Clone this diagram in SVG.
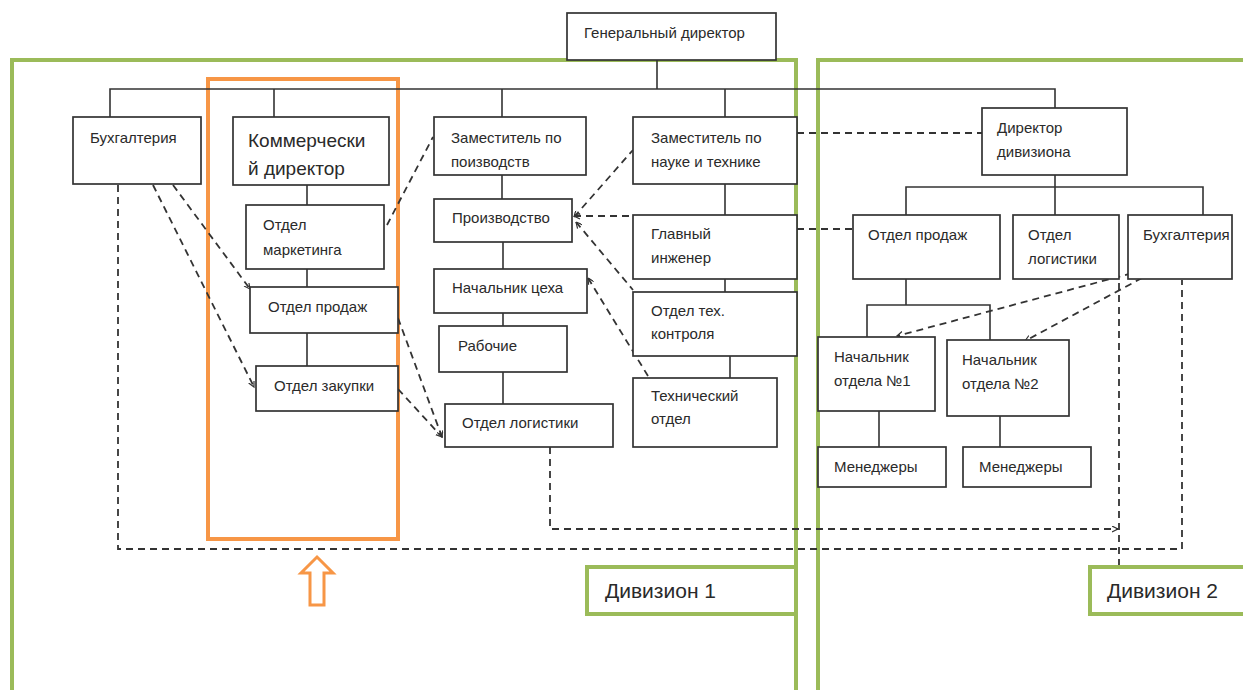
<svg xmlns="http://www.w3.org/2000/svg" width="1243" height="690" viewBox="0 0 1243 690">
<defs>
<style>
.box{fill:#fff;stroke:#333;stroke-width:1.7}
.t{font-family:"Liberation Sans",Arial,sans-serif;font-size:15px;fill:#2a2a2a}
.big{font-size:19px}
.div{font-size:21px}
.ln{fill:none;stroke:#333;stroke-width:1.6}
.dash{fill:none;stroke:#333;stroke-width:1.8;stroke-dasharray:7 5}
.green{fill:none;stroke:#9BBB59;stroke-width:4}
.orange{fill:none;stroke:#F79646;stroke-width:4}
</style>
<marker id="arr" markerWidth="8" markerHeight="8" refX="6" refY="3" orient="auto" markerUnits="userSpaceOnUse">
<path d="M0,0 L6,3 L0,6" fill="none" stroke="#333" stroke-width="1.2"/>
</marker>
<marker id="arrs" markerWidth="8" markerHeight="8" refX="0" refY="3" orient="auto" markerUnits="userSpaceOnUse">
<path d="M6,0 L0,3 L6,6" fill="none" stroke="#333" stroke-width="1.2"/>
</marker>
</defs>
<rect width="1243" height="690" fill="#fff"/>

<g id="divisions">
<rect class="green" x="12" y="60" width="784" height="640"/>
<rect class="green" x="818" y="60" width="440" height="640"/>
<rect class="orange" x="208" y="79" width="190" height="460"/>
<path d="M317,557 L333,573 L324,573 L324,605 L310,605 L310,573 L301,573 Z" fill="#fff" stroke="#F79646" stroke-width="3" stroke-linejoin="miter"/>
</g>

<g id="connectors">
<path class="ln" d="M110,117 V89 H1055 V108"/>
<path class="ln" d="M657,60 V89"/>
<path class="ln" d="M274,89 V117"/>
<path class="ln" d="M502,89 V117"/>
<path class="ln" d="M725,89 V117"/>
<path class="ln" d="M307,185 V205"/>
<path class="ln" d="M307,269 V287"/>
<path class="ln" d="M307,333 V366"/>
<path class="ln" d="M502,175 V199"/>
<path class="ln" d="M503,242 V269"/>
<path class="ln" d="M503,313 V326"/>
<path class="ln" d="M503,372 V404"/>
<path class="ln" d="M725,184 V215"/>
<path class="ln" d="M725,279 V292"/>
<path class="ln" d="M730,356 V378"/>
<path class="ln" d="M1055,175 V187"/>
<path class="ln" d="M906,215 V187 H1203 V215"/>
<path class="ln" d="M1055,187 V215"/>
<path class="ln" d="M906,279 V305"/>
<path class="ln" d="M867,337 V305 H990 V340"/>
<path class="ln" d="M879,411 V447"/>
<path class="ln" d="M1000,416 V447"/>

<path class="dash" d="M118,185 V549 H1182 V280"/>
<path class="dash" d="M550,447 V529 H1118" marker-end="url(#arr)"/>
<path class="dash" d="M1119,283 V565"/>
<path class="dash" d="M173,185 L250,289" marker-end="url(#arr)"/>
<path class="dash" d="M153,185 L254,387" marker-end="url(#arr)"/>
<path class="dash" d="M387,225 L433,137"/>
<path class="dash" d="M398,318 L442,437" marker-end="url(#arr)"/>
<path class="dash" d="M398,389 L442,437" marker-end="url(#arr)"/>
<path class="dash" d="M574,217 L633,150" marker-start="url(#arrs)"/>
<path class="dash" d="M574,216 H633" marker-start="url(#arrs)"/>
<path class="dash" d="M576,222 L633,290" marker-start="url(#arrs)"/>
<path class="dash" d="M588,278 L648,376" marker-start="url(#arrs)"/>
<path class="dash" d="M797,133 H982"/>
<path class="dash" d="M797,229 H853"/>
<path class="dash" d="M1155,267 L897,336" marker-end="url(#arr)"/>
<path class="dash" d="M1142,278 L1025,341" marker-end="url(#arr)"/>
</g>

<g id="gen-dir"><rect class="box" x="567" y="13" width="209" height="47" stroke-width="2.8"/><text class="t" x="584" y="38">Генеральный директор</text></g>

<g id="buh1"><rect class="box" x="73" y="117" width="128" height="67"/><text class="t" x="90" y="143">Бухгалтерия</text></g>
<g id="kom-dir"><rect class="box" x="233" y="117" width="156" height="68"/><text class="t big" x="248" y="147">Коммерчески</text><text class="t big" x="248" y="175">й директор</text></g>
<g id="marketing"><rect class="box" x="246" y="205" width="138" height="64"/><text class="t" x="263" y="230">Отдел</text><text class="t" x="263" y="255">маркетинга</text></g>
<g id="prodazh1"><rect class="box" x="250" y="287" width="148" height="46"/><text class="t" x="268" y="312">Отдел продаж</text></g>
<g id="zakupki"><rect class="box" x="256" y="366" width="142" height="45"/><text class="t" x="274" y="391">Отдел закупки</text></g>

<g id="zam-pr"><rect class="box" x="434" y="117" width="152" height="58"/><text class="t" x="451" y="143">Заместитель по</text><text class="t" x="451" y="167">поизводств</text></g>
<g id="proizvodstvo"><rect class="box" x="434" y="199" width="138" height="43"/><text class="t" x="452" y="223">Производство</text></g>
<g id="nach-ceha"><rect class="box" x="434" y="269" width="153" height="44"/><text class="t" x="452" y="293">Начальник цеха</text></g>
<g id="rabochie"><rect class="box" x="439" y="326" width="128" height="46"/><text class="t" x="458" y="351">Рабочие</text></g>
<g id="logistika1"><rect class="box" x="445" y="404" width="168" height="43"/><text class="t" x="462" y="428">Отдел логистики</text></g>

<g id="zam-nauka"><rect class="box" x="633" y="117" width="164" height="67"/><text class="t" x="651" y="143">Заместитель по</text><text class="t" x="651" y="167">науке и технике</text></g>
<g id="gl-inzh"><rect class="box" x="633" y="215" width="164" height="64"/><text class="t" x="651" y="239">Главный</text><text class="t" x="651" y="263">инженер</text></g>
<g id="otk"><rect class="box" x="633" y="292" width="164" height="64"/><text class="t" x="651" y="316">Отдел тех.</text><text class="t" x="651" y="339">контроля</text></g>
<g id="tech"><rect class="box" x="633" y="378" width="144" height="69"/><text class="t" x="651" y="401">Технический</text><text class="t" x="651" y="424">отдел</text></g>

<g id="dir-div"><rect class="box" x="982" y="108" width="145" height="67"/><text class="t" x="997" y="133">Директор</text><text class="t" x="997" y="157">дивизиона</text></g>
<g id="prodazh2"><rect class="box" x="853" y="215" width="147" height="64"/><text class="t" x="868" y="240">Отдел продаж</text></g>
<g id="logistika2"><rect class="box" x="1013" y="215" width="106" height="64"/><text class="t" x="1028" y="240">Отдел</text><text class="t" x="1028" y="264">логистики</text></g>
<g id="buh2"><rect class="box" x="1128" y="215" width="104" height="64"/><text class="t" x="1143" y="240">Бухгалтерия</text></g>
<g id="nach1"><rect class="box" x="818" y="337" width="117" height="74"/><text class="t" x="834" y="362">Начальник</text><text class="t" x="834" y="386">отдела №1</text></g>
<g id="nach2"><rect class="box" x="947" y="340" width="122" height="76"/><text class="t" x="962" y="365">Начальник</text><text class="t" x="962" y="389">отдела №2</text></g>
<g id="men1"><rect class="box" x="818" y="447" width="128" height="40"/><text class="t" x="834" y="472">Менеджеры</text></g>
<g id="men2"><rect class="box" x="963" y="447" width="128" height="40"/><text class="t" x="979" y="472">Менеджеры</text></g>

<g id="label-div1"><rect x="587" y="567" width="209" height="47" fill="#fff" stroke="#9BBB59" stroke-width="4"/><text class="t div" x="605" y="598">Дивизион 1</text></g>
<g id="label-div2"><rect x="1090" y="567" width="170" height="47" fill="#fff" stroke="#9BBB59" stroke-width="4"/><text class="t div" x="1107" y="598">Дивизион 2</text></g>
</svg>
